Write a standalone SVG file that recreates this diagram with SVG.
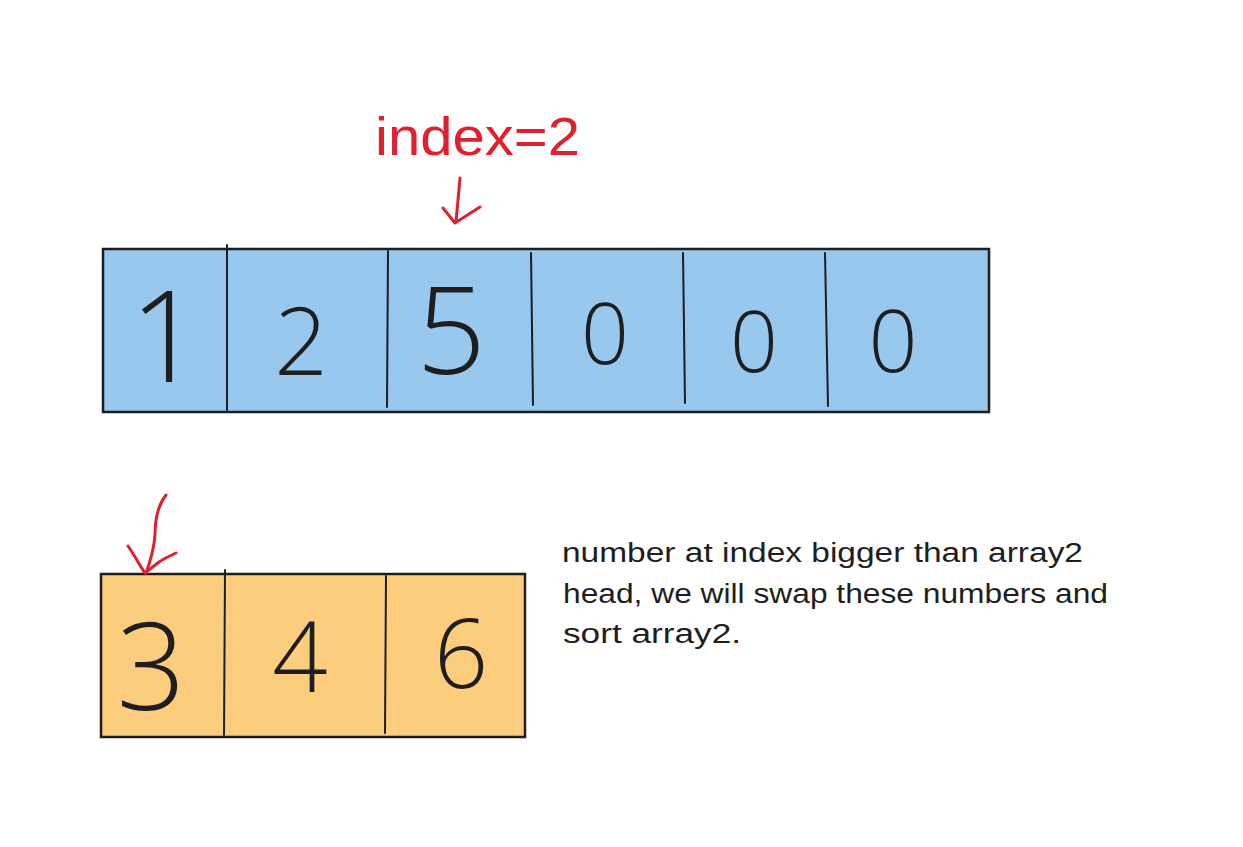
<svg xmlns="http://www.w3.org/2000/svg" width="1243" height="847" viewBox="0 0 1243 847">
<style>
.box{stroke:#1e1e1e;stroke-width:2.5}
.div{stroke:#1e1e1e;stroke-width:2;fill:none;stroke-linecap:round}
.dig{font-family:"Open Sans","Liberation Sans",sans-serif;font-weight:300;fill:#1e1e1e;text-anchor:middle}
.red{stroke:#e0202e;stroke-width:3;fill:none;stroke-linecap:round;stroke-linejoin:round}
.note{font-family:"Liberation Sans",sans-serif;font-size:27px;fill:#1e1e1e}
</style>
<rect width="1243" height="847" fill="#ffffff"/>
<g id="array1">
<rect class="box" x="103" y="249" width="886" height="163" fill="#99c8ee"/>
<path class="div" d="M227 245 L227 410 M388 251 L387 407 M531 253 L533 405 M683 253 L685 403 M825 253 L828 406"/>
<text class="dig" x="166" y="382" font-size="128">1</text>
<text class="dig" x="301" y="375" font-size="94">2</text>
<text class="dig" x="451" y="374" font-size="122">5</text>
<text class="dig" x="605" y="364" font-size="84">0</text>
<text class="dig" x="754" y="372" font-size="84">0</text>
<text class="dig" x="893" y="372" font-size="86">0</text>
</g>
<g id="array2">
<rect class="box" x="101" y="574" width="424" height="163" fill="#fbcd7d"/>
<path class="div" d="M225 570 L224 735 M386 576 L385 733"/>
<text class="dig" x="151" y="710" font-size="121">3</text>
<text class="dig" x="300" y="692" font-size="97">4</text>
<text class="dig" x="461" y="688" font-size="95">6</text>
</g>
<g id="label-index">
<text x="375" y="155" font-family="Liberation Sans,sans-serif" font-size="54" fill="#e0202e" textLength="205" lengthAdjust="spacingAndGlyphs">index=2</text>
</g>
<g id="note">
<text class="note" x="562" y="562" textLength="521" lengthAdjust="spacingAndGlyphs">number at index bigger than array2</text>
<text class="note" x="563" y="603" textLength="545" lengthAdjust="spacingAndGlyphs">head, we will swap these numbers and</text>
<text class="note" x="563" y="643" textLength="178" lengthAdjust="spacingAndGlyphs">sort array2.</text>
</g>
<g id="connectors">
<path class="red" d="M460 178 L456 222 M443 208 L455 223 L480 207"/>
<path class="red" d="M166 495 C158 505 155 520 155 535 C154 550 150 562 146 573 M128 546 C135 556 140 566 145 573 L159 562 C165 558 172 555 176 553"/>
</g>
</svg>
